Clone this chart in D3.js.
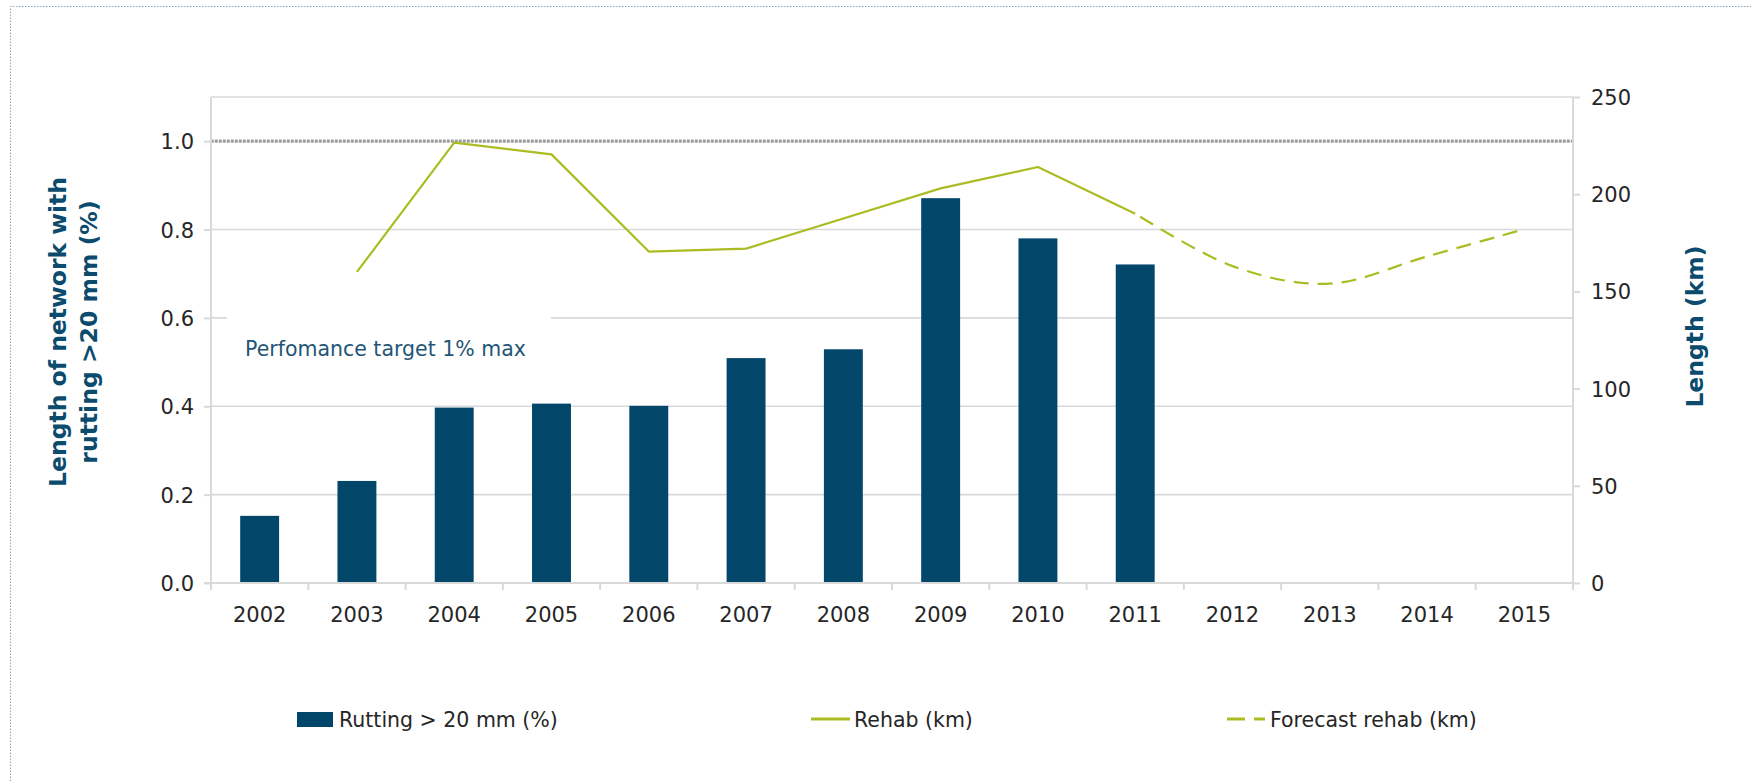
<!DOCTYPE html>
<html>
<head>
<meta charset="utf-8">
<script src="https://cdn.jsdelivr.net/npm/d3@7"></script>
<style>
  body { margin: 0; background: #fff; }
  svg text { font-family: "DejaVu Sans", sans-serif; }
</style>
</head>
<body>
<div id="chart"></div>
<script>
// values
const years = ["2002", "2003", "2004", "2005", "2006", "2007", "2008", "2009", "2010", "2011", "2012", "2013", "2014", "2015"];
const rutting = [0.152, 0.231, 0.397, 0.406, 0.401, 0.509, 0.529, 0.871, 0.780, 0.721, null, null, null, null];
const rehab = [null, 160, 226.5, 220.5, 170.5, 172, 187.5, 203, 214, 190, null, null, null, null];
const forecastYears = ["2011", "2012", "2013", "2014", "2015"];
const forecast = [190, 163, 154, 168, 182];
const leftTicks = [0, 0.2, 0.4, 0.6, 0.8, 1.0];
const rightTicks = [0, 50, 100, 150, 200, 250];
const target = 1.0;

const width = 1751, height = 781;
const margin = { top: 97, right: 178, bottom: 198, left: 211 };
const x0 = margin.left, x1 = width - margin.right;
const y0 = height - margin.bottom, y1 = margin.top;

const barColor = "#02466a";
const lineColor = "#abbc22";
const gridColor = "#d9d9d9";
const titleColor = "#0b4b6d";
const textColor = "#262626";

const svg = d3.select("#chart").append("svg")
  .attr("width", width)
  .attr("height", height);

// outer dotted frame
svg.append("path")
  .attr("d", `M10.5,${height} V6.5 H${width}`)
  .attr("fill", "none")
  .attr("stroke", "#8aa4bb")
  .attr("stroke-width", 1)
  .attr("stroke-dasharray", "1.5,1.5");

const x = d3.scaleBand().domain(years).range([x0, x1]).paddingInner(0.6).paddingOuter(0.3);
const yL = d3.scaleLinear().domain([0, 1.1]).range([y0, y1]);
const yR = d3.scaleLinear().domain([0, 250]).range([y0, y1]);
const cx = d => x(d) + x.bandwidth() / 2;

// gridlines
svg.append("g")
  .selectAll("line")
  .data(leftTicks.filter(d => d > 0).concat([1.1]))
  .join("line")
  .attr("x1", x0).attr("x2", x1)
  .attr("y1", d => yL(d)).attr("y2", d => yL(d))
  .attr("stroke", gridColor)
  .attr("stroke-width", 1.6);

// white box behind the annotation
svg.append("rect")
  .attr("x", 227).attr("y", yL(0.6) - 14)
  .attr("width", 324).attr("height", 60)
  .attr("fill", "#fff");

svg.append("text")
  .attr("x", 245).attr("y", 355.5)
  .style("font-size", "20.5px")
  .style("fill", "#1f5677")
  .text("Perfomance target 1% max");

// target line
svg.append("line")
  .attr("x1", x0).attr("x2", x1)
  .attr("y1", yL(target)).attr("y2", yL(target))
  .attr("stroke", "#9d9d9d")
  .attr("stroke-width", 3.2)
  .attr("stroke-dasharray", "2.7,1.3");

// bars
svg.append("g")
  .selectAll("rect")
  .data(years.map((y, i) => ({ year: y, value: rutting[i] })).filter(d => d.value != null))
  .join("rect")
  .attr("x", d => x(d.year))
  .attr("y", d => yL(d.value))
  .attr("width", x.bandwidth())
  .attr("height", d => yL(0) - yL(d.value))
  .attr("fill", barColor);

// rehab line
const rehabData = years.map((y, i) => ({ year: y, value: rehab[i] })).filter(d => d.value != null);
svg.append("path")
  .datum(rehabData)
  .attr("fill", "none")
  .attr("stroke", lineColor)
  .attr("stroke-width", 2.2)
  .attr("stroke-linejoin", "round")
  .attr("d", d3.line().x(d => cx(d.year)).y(d => yR(d.value)));

// forecast (smoothed, dashed)
const forecastData = forecastYears.map((y, i) => ({ year: y, value: forecast[i] }));
svg.append("path")
  .datum(forecastData)
  .attr("fill", "none")
  .attr("stroke", lineColor)
  .attr("stroke-width", 2.2)
  .attr("stroke-dasharray", "15,9")
  .attr("stroke-dashoffset", -6)
  .attr("d", d3.line().curve(d3.curveCatmullRom.alpha(0)).x(d => cx(d.year)).y(d => yR(d.value)));

// left axis
const leftAxis = svg.append("g")
  .attr("transform", `translate(${x0},0)`)
  .call(d3.axisLeft(yL).tickValues(leftTicks).tickFormat(d3.format(".1f")).tickSize(7).tickPadding(10));
leftAxis.select(".domain").attr("d", `M0,${y1}V${y0}`);

// right axis
const rightAxis = svg.append("g")
  .attr("transform", `translate(${x1},0)`)
  .call(d3.axisRight(yR).tickValues(rightTicks).tickSize(7).tickPadding(11));
rightAxis.select(".domain").attr("d", `M0,${y1}V${y0 + 7}`);

[leftAxis, rightAxis].forEach(a => {
  a.selectAll(".domain, .tick line").attr("stroke", gridColor).attr("stroke-width", 2);
  a.selectAll(".tick text")
    .attr("dy", "0.36em")
    .style("font-size", "21px")
    .style("fill", textColor)
    .attr("font-family", null);
});

// x axis: baseline and category boundary ticks
const xAxis = svg.append("g");
xAxis.append("line")
  .attr("x1", x0 - 7).attr("x2", x1)
  .attr("y1", y0).attr("y2", y0)
  .attr("stroke", gridColor).attr("stroke-width", 2);
const edges = years.map(d => x(d) - x.step() * x.paddingInner() / 2).concat([x1]);
xAxis.selectAll("line.edge")
  .data(edges)
  .join("line")
  .attr("class", "edge")
  .attr("x1", d => d).attr("x2", d => d)
  .attr("y1", y0).attr("y2", y0 + 7)
  .attr("stroke", gridColor).attr("stroke-width", 2);
xAxis.selectAll("text")
  .data(years)
  .join("text")
  .attr("x", d => cx(d))
  .attr("y", 622)
  .attr("text-anchor", "middle")
  .style("font-size", "21px")
  .style("fill", textColor)
  .text(d => d);

// axis titles
const leftTitle = svg.append("g")
  .attr("transform", `translate(0,332) rotate(-90)`)
  .style("font-size", "23.5px")
  .style("font-weight", "bold")
  .style("fill", titleColor)
  .attr("text-anchor", "middle");
leftTitle.append("text").attr("x", 0).attr("y", 66).text("Length of network with");
leftTitle.append("text").attr("x", 0).attr("y", 97).text("rutting >20 mm (%)");

svg.append("text")
  .attr("transform", `translate(1703,326.5) rotate(-90)`)
  .attr("text-anchor", "middle")
  .style("font-size", "23.5px")
  .style("font-weight", "bold")
  .style("fill", titleColor)
  .text("Length (km)");

// legend
const legend = svg.append("g").style("font-size", "20.5px").style("fill", textColor);
legend.append("rect")
  .attr("x", 297).attr("y", 712).attr("width", 36).attr("height", 15)
  .attr("fill", barColor);
legend.append("text").attr("x", 339).attr("y", 726.5).text("Rutting > 20 mm (%)");

legend.append("line")
  .attr("x1", 811).attr("x2", 850).attr("y1", 719).attr("y2", 719)
  .attr("stroke", lineColor).attr("stroke-width", 3);
legend.append("text").attr("x", 854).attr("y", 726.5).text("Rehab (km)");

legend.append("line")
  .attr("x1", 1227).attr("x2", 1265).attr("y1", 719).attr("y2", 719)
  .attr("stroke", lineColor).attr("stroke-width", 3)
  .attr("stroke-dasharray", "18,9");
legend.append("text").attr("x", 1270).attr("y", 726.5).text("Forecast rehab (km)");
</script>
</body>
</html>
